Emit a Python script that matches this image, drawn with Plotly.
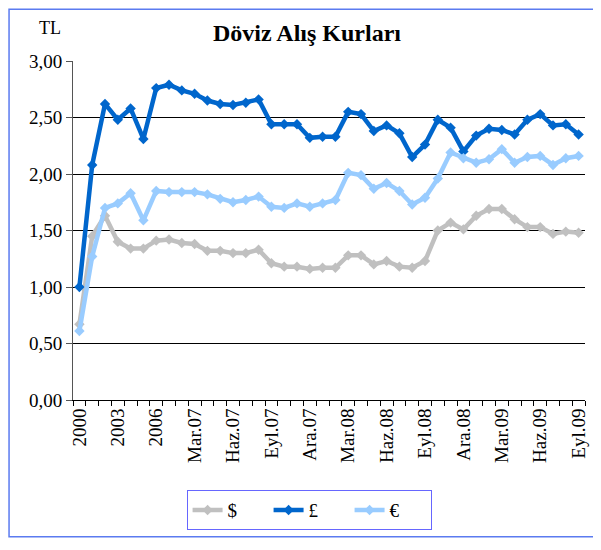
import plotly.graph_objects as go

categories = ["2000", "2001", "2002", "2003", "2004", "2005", "2006",
              "Oca.07", "Şub.07", "Mar.07", "Nis.07", "May.07", "Haz.07",
              "Tem.07", "Ağu.07", "Eyl.07", "Eki.07", "Kas.07", "Ara.07",
              "Oca.08", "Şub.08", "Mar.08", "Nis.08", "May.08", "Haz.08",
              "Tem.08", "Ağu.08", "Eyl.08", "Eki.08", "Kas.08", "Ara.08",
              "Oca.09", "Şub.09", "Mar.09", "Nis.09", "May.09", "Haz.09",
              "Tem.09", "Ağu.09", "Eyl.09"]

usd = [0.67, 1.45, 1.63, 1.40, 1.34, 1.34, 1.41, 1.42, 1.39, 1.38,
       1.32, 1.32, 1.30, 1.30, 1.33, 1.21, 1.18, 1.18, 1.16, 1.17,
       1.17, 1.28, 1.28, 1.20, 1.23, 1.18, 1.17, 1.23, 1.50, 1.57,
       1.51, 1.63, 1.69, 1.69, 1.60, 1.53, 1.53, 1.47, 1.49, 1.48]

gbp = [1.00, 2.08, 2.62, 2.48, 2.58, 2.31, 2.76, 2.79, 2.74, 2.71,
       2.65, 2.62, 2.61, 2.63, 2.66, 2.44, 2.44, 2.44, 2.32, 2.33,
       2.33, 2.55, 2.53, 2.38, 2.43, 2.36, 2.15, 2.26, 2.48, 2.41,
       2.20, 2.34, 2.40, 2.39, 2.35, 2.48, 2.53, 2.43, 2.44, 2.35]

eur = [0.61, 1.27, 1.70, 1.74, 1.83, 1.59, 1.85, 1.84, 1.84, 1.84,
       1.82, 1.78, 1.75, 1.77, 1.80, 1.71, 1.70, 1.74, 1.71, 1.74,
       1.77, 2.01, 1.99, 1.87, 1.92, 1.85, 1.73, 1.79, 1.96, 2.19,
       2.14, 2.10, 2.13, 2.22, 2.10, 2.15, 2.16, 2.08, 2.14, 2.16]

series_names = ["$", "£", "€"]
series_colors = ["#C0C0C0", "#0066CC", "#99CCFF"]
y_ticks = [0, 0.5, 1.0, 1.5, 2.0, 2.5, 3.0]
y_tick_text = ["0,00", "0,50", "1,00", "1,50", "2,00", "2,50", "3,00"]

tick_text = [c if i % 3 == 0 else "" for i, c in enumerate(categories)]

serif = "Liberation Serif, Times New Roman, serif"

fig = go.Figure()
for name, vals, col in zip(series_names, [usd, gbp, eur], series_colors):
    fig.add_trace(go.Scatter(
        x=categories, y=vals, name=name, mode="lines+markers",
        line=dict(color=col, width=4.5),
        marker=dict(symbol="diamond", size=8, color=col),
    ))

# page body has an 8px margin; figure coordinates = page coordinates - 8
OFF = 8
W, H = 593, 534
L, R, T, B = 65, 14, 53, 139
pw, ph = W - L - R, H - T - B

def px_x(p):
    return (p - OFF - L) / pw

def px_y(p):
    return (H - B - (p - OFF)) / ph

fig.update_layout(
    width=W, height=H,
    margin=dict(l=L, r=R, t=T, b=B),
    paper_bgcolor="white", plot_bgcolor="white",
    font=dict(family=serif, size=18, color="black"),
    title=dict(text="<b>Döviz Alış Kurları</b>", x=(307 - OFF) / W,
               xanchor="center", y=1 - (33 - OFF) / H, yanchor="middle",
               font=dict(family=serif, size=24, color="black")),
    showlegend=True,
    legend=dict(orientation="h", x=px_x(310), xanchor="center",
                y=px_y(494), yanchor="top",
                bordercolor="#6666FF", borderwidth=1,
                font=dict(family=serif, size=19, color="black"),
                entrywidth=36, entrywidthmode="pixels",
                traceorder="normal"),
    xaxis=dict(type="category", tickmode="array", tickvals=categories,
               ticktext=tick_text, tickangle=-90, tickson="boundaries",
               ticks="outside", ticklen=5, tickcolor="black",
               showline=True, linecolor="black", linewidth=1,
               showgrid=False, tickfont=dict(family=serif, size=19),
               range=[-0.5, len(categories) - 0.5], fixedrange=True),
    yaxis=dict(range=[0, 3], tickmode="array", tickvals=y_ticks,
               ticktext=y_tick_text, ticks="outside", ticklen=6,
               tickcolor="#555555", showline=True, linecolor="#555555",
               linewidth=1, showgrid=True, gridcolor="black", gridwidth=1,
               zeroline=False, tickfont=dict(family=serif, size=19),
               fixedrange=True),
    annotations=[dict(text="TL", xref="paper", yref="paper",
                      x=px_x(50), y=px_y(28), xanchor="center",
                      yanchor="middle", showarrow=False,
                      font=dict(family=serif, size=18, color="black"))],
    shapes=[dict(type="rect", xref="paper", yref="paper",
                 x0=(0.8 - L) / pw, x1=(589 - L) / pw,
                 y0=(H - B - (H - 1)) / ph, y1=(H - B - 0.8) / ph,
                 line=dict(color="#5B7BF0", width=1.5), layer="below")],
)

fig.write_html("out.html")
